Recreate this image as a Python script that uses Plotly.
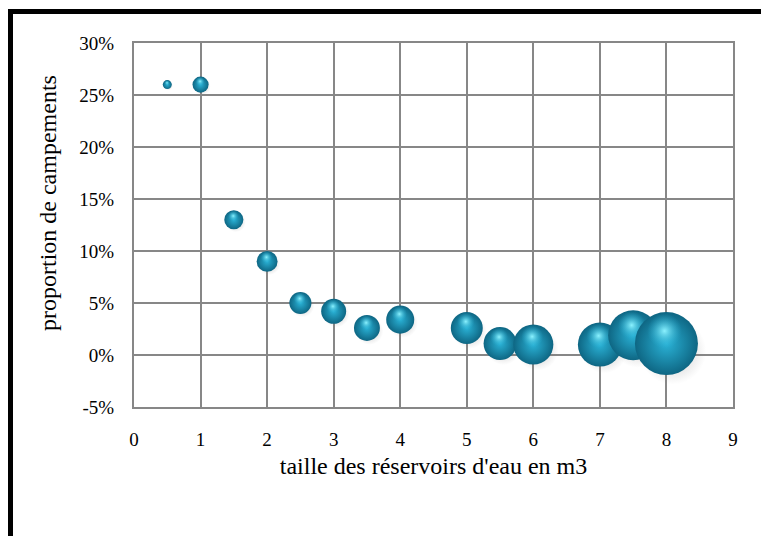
import plotly.graph_objects as go

# Reservoir size (m3) vs share of camps, bubble area = weight of each class
reservoir_m3 = [0.5, 1, 1.5, 2, 2.5, 3, 3.5, 4, 5, 5.5, 6, 7, 7.5, 8]
camp_share_pct = [26, 26, 13, 9, 5, 4.2, 2.6, 3.4, 2.6, 1.1, 1.0, 1.0, 1.9, 1.1]
bubble_size = [1.0, 3.2, 4.5, 5.4, 6.0, 7.7, 8.3, 9.7, 12.6, 13.4, 19.8, 23.9, 30.9, 49.0]

x_ticks = [0, 1, 2, 3, 4, 5, 6, 7, 8, 9]
y_ticks = [-5, 0, 5, 10, 15, 20, 25, 30]
y_tick_text = ["-5%", "0%", "5%", "10%", "15%", "20%", "25%", "30%"]

FONT = "Times New Roman, Liberation Serif, serif"
W, H = 761, 536
M_L, M_R, M_T, M_B = 134, 28, 43, 129
PLOT_W = W - M_L - M_R
PLOT_H = H - M_T - M_B
Y_RANGE = (-5, 30)
MAX_D = 63
sizeref = 2.0 * max(bubble_size) / MAX_D ** 2
pct_per_px = (Y_RANGE[1] - Y_RANGE[0]) / PLOT_H
x_per_px = 9 / PLOT_W


def diam(s):
    return 2 * (s / 2 / sizeref) ** 0.5


fig = go.Figure()

# one group of traces per sphere so that later spheres overlap earlier ones
for x, y, s in zip(reservoir_m3, camp_share_pct, bubble_size):
    d = diam(s)
    # soft drop shadow
    fig.add_trace(go.Scatter(
        x=[x + 0.10 * d * x_per_px], y=[y - 0.12 * d * pct_per_px],
        mode="markers",
        marker=dict(size=d * 1.06, opacity=1, color="rgba(120,120,120,0)",
                    gradient=dict(type="radial", color="rgba(90,90,90,0.4)"),
                    line=dict(width=0)),
        hoverinfo="skip", showlegend=False,
    ))
    # sphere body
    fig.add_trace(go.Scatter(
        x=[x], y=[y], mode="markers",
        marker=dict(size=[s], sizemode="area", sizeref=sizeref, opacity=1,
                    color="#0e6683",
                    gradient=dict(type="radial", color="#2ab2d6"),
                    line=dict(width=0)),
        showlegend=False,
    ))
    # specular highlight near the top
    fig.add_trace(go.Scatter(
        x=[x - 0.03 * d * x_per_px], y=[y + 0.2 * d * pct_per_px],
        mode="markers",
        marker=dict(size=d * 0.55, opacity=1, color="rgba(42,178,214,0)",
                    gradient=dict(type="radial", color="rgba(140,242,255,1)"),
                    line=dict(width=0)),
        hoverinfo="skip", showlegend=False,
    ))

grid = "#878787"
fig.update_xaxes(
    range=[0, 9], tickvals=x_ticks, showgrid=True, gridcolor=grid, gridwidth=2,
    zeroline=False, showline=True, linecolor=grid, linewidth=2, mirror=True,
    ticks="outside", ticklen=14, tickcolor="rgba(0,0,0,0)",
    tickfont=dict(family=FONT, size=19, color="black"),
    title=dict(text="taille des réservoirs d'eau en m3", standoff=8,
               font=dict(family=FONT, size=24, color="black")),
)
fig.update_yaxes(
    range=list(Y_RANGE), tickvals=y_ticks, ticktext=y_tick_text,
    showgrid=True, gridcolor=grid, gridwidth=2,
    zeroline=False, showline=True, linecolor=grid, linewidth=2, mirror=True,
    ticks="outside", ticklen=14, tickcolor="rgba(0,0,0,0)",
    tickfont=dict(family=FONT, size=19, color="black"),
)

# vertical axis title, sitting a little above the axis middle
fig.add_annotation(
    text="proportion de campements", textangle=-90,
    xref="paper", yref="paper", x=(48 - M_L) / PLOT_W, y=(H - M_B - 203) / PLOT_H,
    xanchor="center", yanchor="middle", showarrow=False,
    font=dict(family=FONT, size=24, color="black"),
)

# heavy black frame around the chart area
bx = (10.5 - M_L) / PLOT_W
by = 1 + (M_T - 11.5) / PLOT_H
fig.add_shape(type="rect", xref="paper", yref="paper",
              x0=bx, x1=3, y0=-3, y1=by,
              line=dict(color="black", width=5), layer="above")

fig.update_layout(
    width=W, height=H,
    margin=dict(l=M_L, r=M_R, t=M_T, b=M_B),
    paper_bgcolor="white", plot_bgcolor="white",
)

fig.write_html("out.html")
